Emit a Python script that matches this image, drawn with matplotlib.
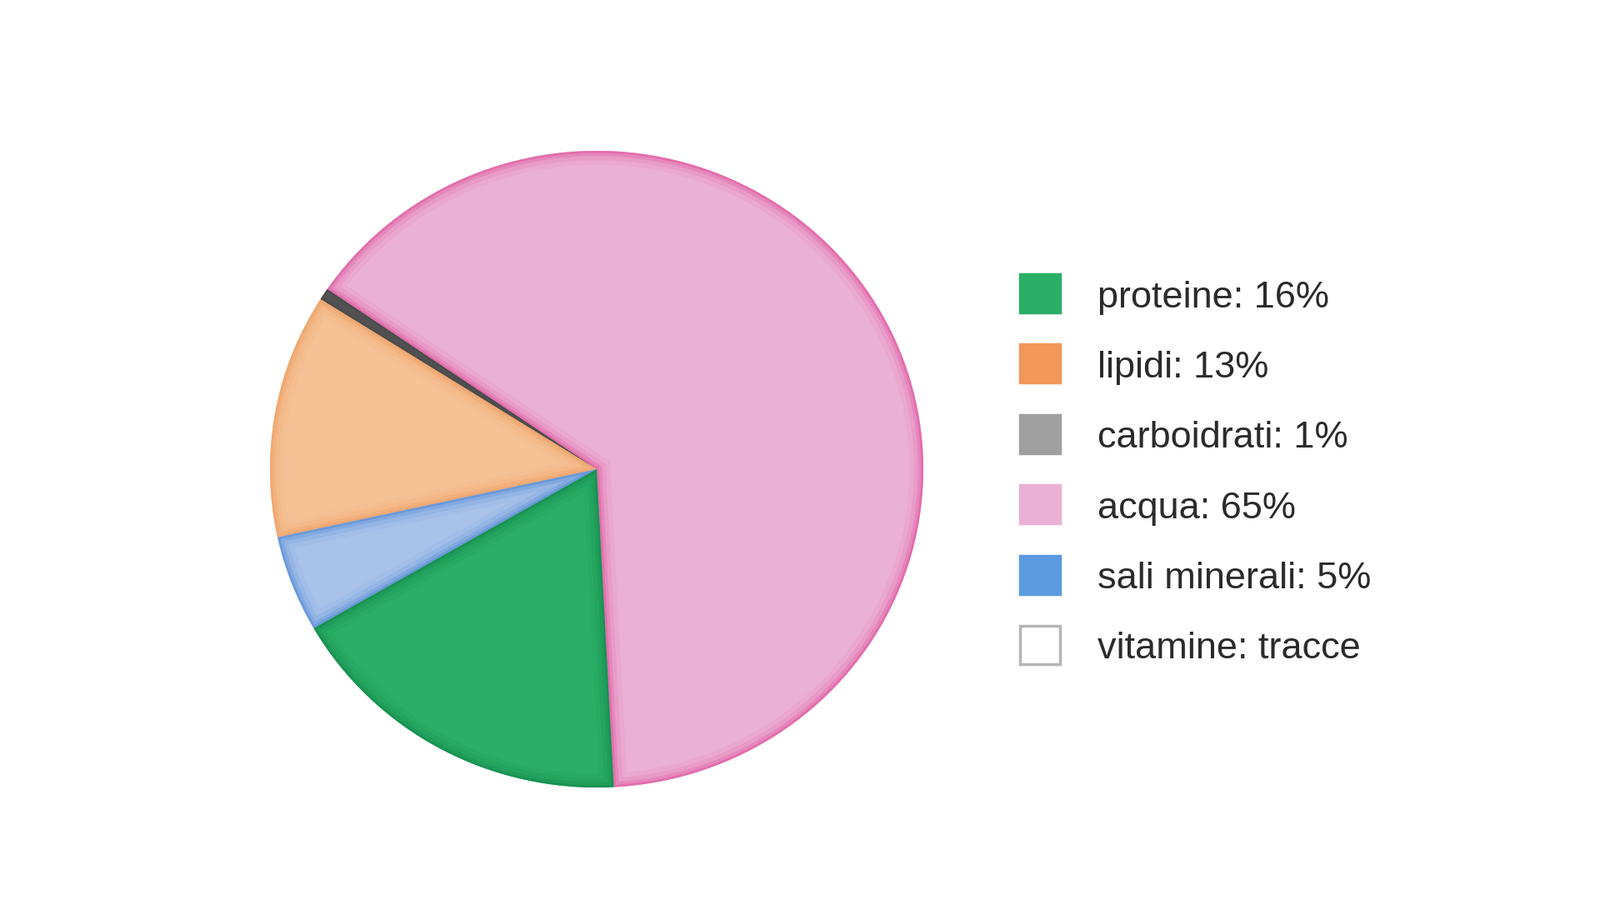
import matplotlib.pyplot as plt
from matplotlib.patches import Wedge, Rectangle

plt.rcParams['font.family'] = ['Liberation Sans', 'DejaVu Sans']

# legend entries (top to bottom)
legend_labels = ['proteine: 16%', 'lipidi: 13%', 'carboidrati: 1%',
                 'acqua: 65%', 'sali minerali: 5%', 'vitamine: tracce']
legend_colors = ['#2bae66', '#f0975a', '#a0a0a0', '#ebb0d5', '#5b9be0', '#ffffff']

# pie slices, counter-clockwise from just right of the bottom
slice_names = ['acqua', 'carboidrati', 'lipidi', 'sali minerali', 'proteine']
slice_shares = [64.6, 0.6, 12.4, 4.9, 17.5]
slice_fill = ['#ebb0d5', '#5a5a5a', '#f5c195', '#a9c2ea', '#2bae66']
slice_edge = ['#e262a6', '#4a4a4a', '#f0a46a', '#5f93d8', '#168f50']

fig = plt.figure(figsize=(19.2, 10.8), dpi=100)
ax = fig.add_axes([324 / 1920, 135 / 1080, 784 / 1920, 764 / 1080])

wedges, _ = ax.pie(slice_shares, colors=slice_fill, startangle=-87,
                   counterclock=True, radius=1,
                   wedgeprops=dict(linewidth=0))
ax.set_aspect('auto')
ax.set_xlim(-1, 1)
ax.set_ylim(-1, 1)
ax.axis('off')

# soft inner shading along each slice border
for w, ec in zip(wedges, slice_edge):
    for lw, a in [(24, 0.1), (16, 0.18), (9, 0.35), (4, 0.65)]:
        g = Wedge(w.center, w.r, w.theta1, w.theta2, facecolor='none',
                  edgecolor=ec, linewidth=lw, alpha=a)
        ax.add_patch(g)
        g.set_clip_path(w)

# legend drawn by hand to mimic the square swatches
y0, step = 352, 84.4
for i, (lab, col) in enumerate(zip(legend_labels, legend_colors)):
    yc = 1 - (y0 + i * step) / 1080
    edge = '#b5b5b5' if col == '#ffffff' else col
    fig.patches.append(Rectangle((1224 / 1920, yc - 23 / 1080), 48 / 1920, 46 / 1080,
                                 transform=fig.transFigure, facecolor=col,
                                 edgecolor=edge, linewidth=2.5))
    fig.text(1317 / 1920, yc - 5 / 1080, lab, fontsize=32.5, color='#2b2b2b',
             va='center', ha='left')

fig.savefig('out.png', dpi=100, facecolor='white')
